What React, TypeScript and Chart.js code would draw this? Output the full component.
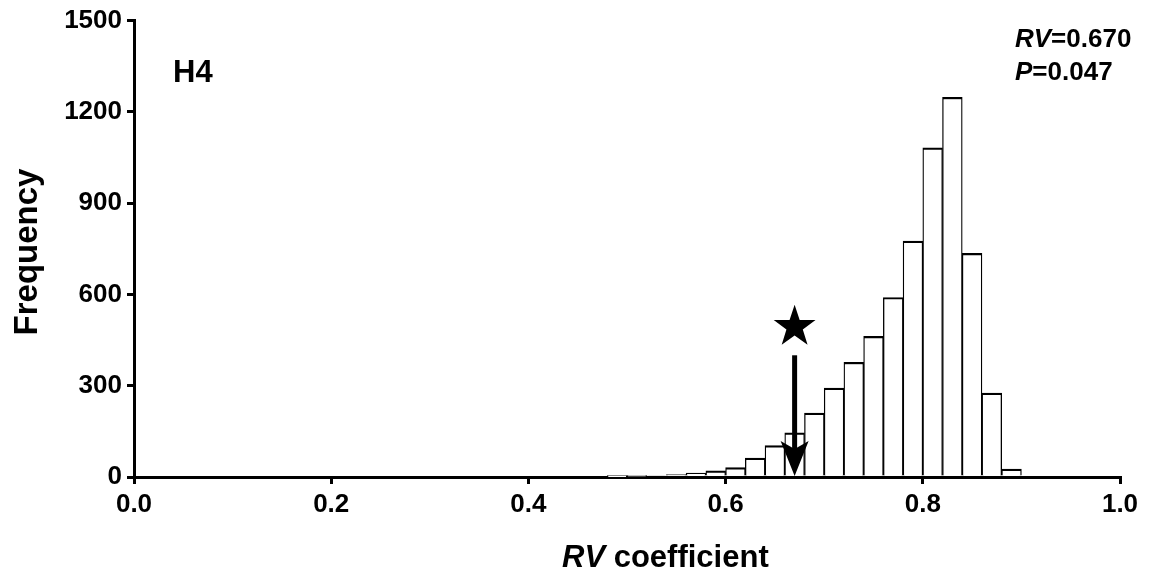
import React, { useEffect, useRef } from "react";
import { Chart, registerables } from "chart.js";

Chart.register(...registerables);

// Histogram bins (centre of each 0.02-wide bin) and their frequencies
const binCenters = [0.49, 0.51, 0.53, 0.55, 0.57, 0.59, 0.61, 0.63, 0.65, 0.67, 0.69, 0.71, 0.73, 0.75, 0.77, 0.79, 0.81, 0.83, 0.85, 0.87, 0.89];
const frequencies = [1, 3, 5, 8, 13, 20, 31, 62, 103, 145, 210, 292, 377, 462, 590, 775, 1082, 1248, 735, 276, 26];

const xTicks = [0.0, 0.2, 0.4, 0.6, 0.8, 1.0];
const yTicks = [0, 300, 600, 900, 1200, 1500];

const observedRV = 0.67;
const pValue = "0.047";
const rvLabel = "0.670";
const panelLabel = "H4";
const starLevel = 500; // frequency level of star marker
const arrowTopLevel = 400; // frequency level where arrow starts

const FONT = "'Liberation Sans', Arial, Helvetica, sans-serif";

function drawParts(ctx: CanvasRenderingContext2D, parts: { t: string; italic?: boolean }[], x: number, y: number, size: number) {
  let cx = x;
  for (const p of parts) {
    ctx.font = `${p.italic ? "italic " : ""}bold ${size}px ${FONT}`;
    ctx.fillText(p.t, cx, y);
    cx += ctx.measureText(p.t).width;
  }
}

const overlay = {
  id: "overlay",
  afterDraw(chart: any) {
    const ctx: CanvasRenderingContext2D = chart.ctx;
    const xs = chart.scales.x;
    const ys = chart.scales.y;
    const px = xs.getPixelForValue(observedRV);
    const yTip = ys.getPixelForValue(0);
    const yTop = ys.getPixelForValue(arrowTopLevel);
    ctx.save();
    ctx.fillStyle = "#000";
    // arrow shaft
    ctx.fillRect(px - 2.5, yTop, 5, yTip - yTop - 25);
    // arrow head
    ctx.beginPath();
    ctx.moveTo(px - 14, yTip - 36);
    ctx.lineTo(px, yTip - 28);
    ctx.lineTo(px + 14, yTip - 36);
    ctx.lineTo(px, yTip - 1);
    ctx.closePath();
    ctx.fill();
    // star
    const sy = ys.getPixelForValue(starLevel);
    const R = 22, r = 8.6;
    ctx.beginPath();
    for (let i = 0; i < 10; i++) {
      const rad = i % 2 === 0 ? R : r;
      const a = -Math.PI / 2 + (i * Math.PI) / 5;
      const x = px + rad * Math.cos(a);
      const y = sy + 2 + rad * Math.sin(a);
      if (i === 0) ctx.moveTo(x, y);
      else ctx.lineTo(x, y);
    }
    ctx.closePath();
    ctx.fill();

    // texts
    ctx.textBaseline = "alphabetic";
    ctx.textAlign = "left";
    drawParts(ctx, [{ t: panelLabel }], 173, 82, 31);
    drawParts(ctx, [{ t: "RV", italic: true }, { t: "=" + rvLabel }], 1015, 47, 26);
    drawParts(ctx, [{ t: "P", italic: true }, { t: "=" + pValue }], 1015, 80, 26);
    // x title
    drawParts(ctx, [{ t: "RV", italic: true }, { t: " coefficient" }], 562, 567, 31);
    // y title
    ctx.save();
    ctx.translate(37, 252);
    ctx.rotate(-Math.PI / 2);
    ctx.textAlign = "center";
    ctx.font = `bold 33px ${FONT}`;
    ctx.fillText("Frequency", 0, 0);
    ctx.restore();
    ctx.restore();
  },
};

export default function App() {
  const ref = useRef<HTMLCanvasElement>(null);
  useEffect(() => {
    if (!ref.current) return;
    const chart = new Chart(ref.current, {
      type: "bar",
      data: {
        datasets: [
          {
            data: binCenters.map((x, i) => ({ x, y: frequencies[i] })),
            backgroundColor: "#ffffff",
            borderColor: "#000000",
            borderWidth: { top: 2.2, left: 1.3, right: 1.3, bottom: 0 },
            borderSkipped: false,
            barPercentage: 1,
            categoryPercentage: 1,
          },
        ],
      },
      options: {
        animation: false,
        responsive: false,
        layout: { padding: { top: 19, right: 40, left: 0, bottom: 0 } },
        plugins: { legend: { display: false }, tooltip: { enabled: false } },
        scales: {
          x: {
            type: "linear",
            offset: false,
            min: 0,
            max: 1,
            afterFit: (s: any) => { s.height = 95; },
            afterBuildTicks: (s: any) => { s.ticks = xTicks.map((v) => ({ value: v })); },
            ticks: {
              color: "#000",
              font: { family: FONT, size: 26, weight: "bold" },
              padding: 5,
              maxRotation: 0,
              callback: (v: any) => Number(v).toFixed(1),
            },
            grid: { offset: false, drawOnChartArea: false, drawTicks: true, tickLength: 7, color: "#000", lineWidth: 3 },
            border: { color: "#000", width: 3 },
          },
          y: {
            min: 0,
            max: 1500,
            afterFit: (s: any) => { s.width = 134; },
            afterBuildTicks: (s: any) => { s.ticks = yTicks.map((v) => ({ value: v })); },
            ticks: {
              color: "#000",
              font: { family: FONT, size: 26, weight: "bold" },
              padding: 5,
              callback: (v: any) => String(v),
            },
            grid: { drawOnChartArea: false, drawTicks: true, tickLength: 7, color: "#000", lineWidth: 3 },
            border: { color: "#000", width: 3 },
          },
        },
      },
      plugins: [overlay],
    });
    return () => chart.destroy();
  }, []);
  return (
    <canvas
      ref={ref}
      width={1160}
      height={572}
      style={{ position: "fixed", left: 0, top: 0, width: 1160, height: 572, display: "block", background: "#fff" }}
    />
  );
}
